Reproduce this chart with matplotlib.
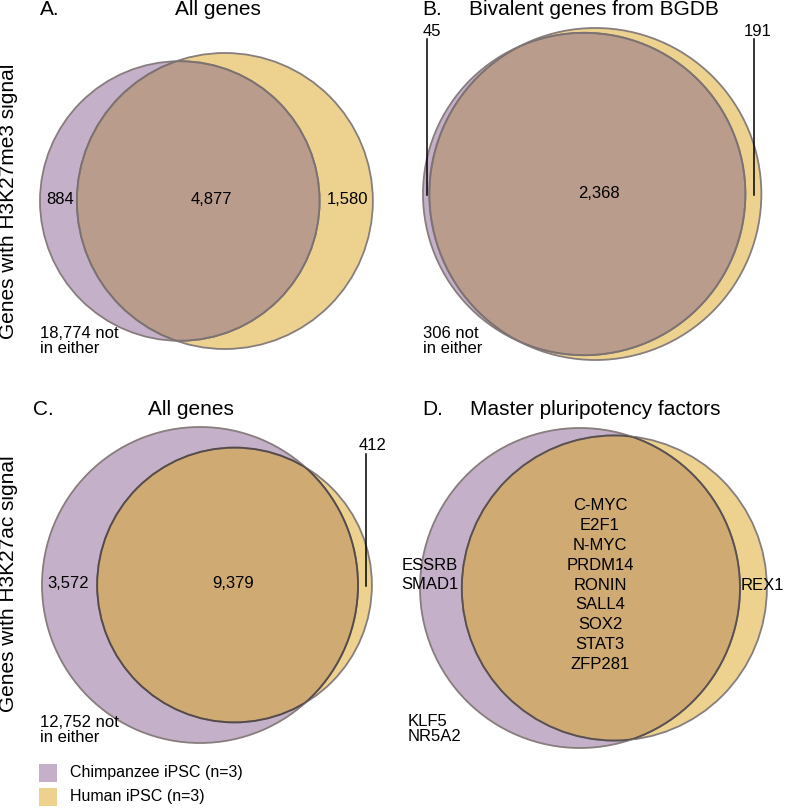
import numpy as np
import matplotlib
matplotlib.use('Agg')
import matplotlib.pyplot as plt
from matplotlib.patches import Circle, Rectangle

plt.rcParams['font.family'] = ['Liberation Sans', 'DejaVu Sans']

# --- data ---
panel_letters = ['A.', 'B.', 'C.', 'D.']
panel_titles = ['All genes', 'Bivalent genes from BGDB', 'All genes', 'Master pluripotency factors']
row_labels = ['Genes with H3K27me3 signal', 'Genes with H3K27ac signal']
chimp_only = [884, 45, 3572]
both = [4877, 2368, 9379]
human_only = [1580, 191, 412]
neither = [18774, 306, 12752]
d_chimp_genes = ['ESSRB', 'SMAD1']
d_both_genes = ['C-MYC', 'E2F1', 'N-MYC', 'PRDM14', 'RONIN', 'SALL4', 'SOX2', 'STAT3', 'ZFP281']
d_human_genes = ['REX1']
d_neither_genes = ['KLF5', 'NR5A2']
legend_labels = ['Chimpanzee iPSC (n=3)', 'Human iPSC (n=3)']

# --- style ---
PURPLE = '#c4b0c8'
YELLOW = '#edd28f'
OVERLAP = ['#b99c8c', '#b99c8c', '#cfaa72', '#cfaa72']
EDGE = '#877d7d'
INNER_EDGE = ['#7d7272', '#7d7272', '#554a4a', '#5a5050']


def lens_area(r1, r2, d):
    if d >= r1 + r2:
        return 0.0
    if d <= abs(r1 - r2):
        return np.pi * min(r1, r2) ** 2
    a1 = r1 ** 2 * np.arccos((d ** 2 + r1 ** 2 - r2 ** 2) / (2 * d * r1))
    a2 = r2 ** 2 * np.arccos((d ** 2 + r2 ** 2 - r1 ** 2) / (2 * d * r2))
    k = np.sqrt((-d + r1 + r2) * (d + r1 - r2) * (d - r1 + r2) * (d + r1 + r2))
    return a1 + a2 - 0.5 * k


def solve_distance(r1, r2, target):
    lo, hi = abs(r1 - r2), r1 + r2
    for _ in range(80):
        mid = (lo + hi) / 2
        if lens_area(r1, r2, mid) > target:
            lo = mid
        else:
            hi = mid
    return (lo + hi) / 2


fig = plt.figure(figsize=(7.85, 8.08), dpi=100)
ax = fig.add_axes([0, 0, 1, 1])
ax.set_xlim(0, 785)
ax.set_ylim(808, 0)
ax.axis('off')

counts = [(chimp_only[i], both[i], human_only[i]) for i in range(3)]
counts.append((len(d_chimp_genes), len(d_both_genes), len(d_human_genes)))

# layout: chimp left edge, centre y, radius of the larger circle
layout = [(40, 201, 148), (423, 194, 166), (42, 585, 158), (420, 588, 160)]

for i, (c_only, b, h_only) in enumerate(counts):
    n_c, n_h = c_only + b, h_only + b
    left, cy, rbig = layout[i]
    scale = rbig / np.sqrt(max(n_c, n_h))
    r_c = scale * np.sqrt(n_c)
    r_h = scale * np.sqrt(n_h)
    overlap = np.pi * scale ** 2 * b
    d = solve_distance(r_c, r_h, overlap)
    cx_c = left + r_c
    cx_h = cx_c + d

    ax.add_patch(Circle((cx_c, cy), r_c, facecolor=PURPLE, edgecolor='none', zorder=1))
    ax.add_patch(Circle((cx_h, cy), r_h, facecolor=YELLOW, edgecolor='none', zorder=1))
    inter = Circle((cx_h, cy), r_h, facecolor=OVERLAP[i], edgecolor='none', zorder=2)
    ax.add_patch(inter)
    inter.set_clip_path(Circle((cx_c, cy), r_c, transform=ax.transData))
    ax.add_patch(Circle((cx_c, cy), r_c, facecolor='none', edgecolor=EDGE, lw=1.3, zorder=3))
    ax.add_patch(Circle((cx_h, cy), r_h, facecolor='none', edgecolor=EDGE, lw=1.3, zorder=3))
    h_in = Circle((cx_h, cy), r_h, facecolor='none', edgecolor=INNER_EDGE[i], lw=1.3, zorder=4)
    ax.add_patch(h_in)
    h_in.set_clip_path(Circle((cx_c, cy), r_c, transform=ax.transData))
    c_in = Circle((cx_c, cy), r_c, facecolor='none', edgecolor=INNER_EDGE[i], lw=1.3, zorder=4)
    ax.add_patch(c_in)
    c_in.set_clip_path(Circle((cx_h, cy), r_h, transform=ax.transData))

# titles
letter_pos = [(40, 15), (422, 15), (33, 415), (422, 415)]
title_x = [218, 594, 191, 595]
for i in range(4):
    lx, ly = letter_pos[i]
    ax.text(lx, ly, panel_letters[i], fontsize=15, ha='left', va='baseline')
    ax.text(title_x[i], ly, panel_titles[i], fontsize=15, ha='center', va='baseline')

ax.text(9, 201, row_labels[0], fontsize=15, rotation=90, ha='center', va='center')
ax.text(9, 584, row_labels[1], fontsize=15, rotation=90, ha='center', va='center')

fs = 12
# panel A
ax.text(60, 200, f'{chimp_only[0]:,}', fontsize=fs, ha='center', va='center')
ax.text(211, 200, f'{both[0]:,}', fontsize=fs, ha='center', va='center')
ax.text(347, 200, f'{human_only[0]:,}', fontsize=fs, ha='center', va='center')
ax.text(40, 341, f'{neither[0]:,} not\nin either', fontsize=fs, ha='left', va='center', linespacing=0.95)

# panel B
ax.text(599, 194, f'{both[1]:,}', fontsize=fs, ha='center', va='center')
ax.text(432, 32, f'{chimp_only[1]:,}', fontsize=fs, ha='center', va='center')
ax.plot([427, 427], [39, 195], color='black', lw=1.1, zorder=5)
ax.text(758, 32, f'{human_only[1]:,}', fontsize=fs, ha='center', va='center')
ax.plot([754, 754], [39, 195], color='black', lw=1.1, zorder=5)
ax.text(423, 341, f'{neither[1]:,} not\nin either', fontsize=fs, ha='left', va='center', linespacing=0.95)

# panel C
ax.text(68, 583, f'{chimp_only[2]:,}', fontsize=fs, ha='center', va='center')
ax.text(233, 583, f'{both[2]:,}', fontsize=fs, ha='center', va='center')
ax.text(373, 445, f'{human_only[2]:,}', fontsize=fs, ha='center', va='center')
ax.plot([366, 366], [454, 586], color='black', lw=1.1, zorder=5)
ax.text(40, 730, f'{neither[2]:,} not\nin either', fontsize=fs, ha='left', va='center', linespacing=0.95)

# panel D
ax.text(600, 585, '\n'.join(d_both_genes), fontsize=fs, ha='center', va='center', linespacing=1.4)
ax.text(430, 575, '\n'.join(d_chimp_genes), fontsize=fs, ha='center', va='center', linespacing=1.4)
ax.text(784, 585, '\n'.join(d_human_genes), fontsize=fs, ha='right', va='center')
ax.text(408, 729, '\n'.join(d_neither_genes), fontsize=fs, ha='left', va='center', linespacing=0.95)

# legend
for j, (lab, col) in enumerate(zip(legend_labels, [PURPLE, YELLOW])):
    y0 = 764 + j * 24
    ax.add_patch(Rectangle((39, y0), 18, 18, facecolor=col, edgecolor='none'))
    ax.text(70, y0 + 9, lab, fontsize=11.5, ha='left', va='center')

fig.savefig('out.png', dpi=100)
